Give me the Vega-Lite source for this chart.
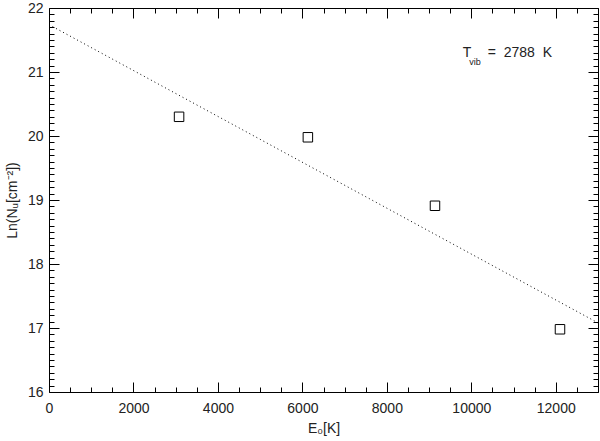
{
  "$schema": "https://vega.github.io/schema/vega-lite/v6.json",
  "width": 549,
  "height": 384,
  "autosize": {"type": "none"},
  "padding": {"left": 49, "top": 8, "right": 2, "bottom": 49},
  "background": "white",
  "config": {
    "view": {"stroke": "#000", "strokeWidth": 1},
    "axis": {
      "domain": false,
      "grid": false,
      "tickColor": "#000",
      "tickWidth": 1,
      "labelFont": "Liberation Sans",
      "labelFontSize": 14,
      "labelColor": "#222",
      "titleFont": "Liberation Sans",
      "titleFontSize": 14,
      "titleFontWeight": "normal",
      "titleColor": "#222"
    }
  },
  "layer": [
    {
      "data": {"values": [{"E": 0, "lnN": 21.74}, {"E": 13000, "lnN": 17.08}]},
      "mark": {"type": "line", "color": "#000", "strokeWidth": 1, "strokeDash": [1, 3]},
      "encoding": {
        "x": {
          "field": "E", "type": "quantitative",
          "scale": {"domain": [0, 13000], "nice": false, "zero": false},
          "axis": {
            "orient": "bottom",
            "title": "E₀[K]",
            "titlePadding": 1,
            "format": "d",
            "values": [0,500,1000,1500,2000,2500,3000,3500,4000,4500,5000,5500,6000,6500,7000,7500,8000,8500,9000,9500,10000,10500,11000,11500,12000,12500,13000],
            "labelExpr": "datum.value % 2000 === 0 ? datum.label : ''",
            "tickSize": {"condition": {"test": "datum.value % 2000 === 0", "value": -10}, "value": -5},
            "labelPadding": 19,
            "labelOverlap": false,
            "labelFlush": false
          }
        },
        "y": {
          "field": "lnN", "type": "quantitative",
          "scale": {"domain": [16, 22], "nice": false, "zero": false},
          "axis": {
            "orient": "left",
            "title": "Ln(Nᵤ[cm⁻²])",
            "titlePadding": 8,
            "values": [16,16.1,16.2,16.3,16.4,16.5,16.6,16.7,16.8,16.9,17,17.1,17.2,17.3,17.4,17.5,17.6,17.7,17.8,17.9,18,18.1,18.2,18.3,18.4,18.5,18.6,18.7,18.8,18.9,19,19.1,19.2,19.3,19.4,19.5,19.6,19.7,19.8,19.9,20,20.1,20.2,20.3,20.4,20.5,20.6,20.7,20.8,20.9,21,21.1,21.2,21.3,21.4,21.5,21.6,21.7,21.8,21.9,22],
            "labelExpr": "abs(datum.value - round(datum.value)) < 0.01 ? format(datum.value, 'd') : ''",
            "tickSize": {"condition": {"test": "abs(datum.value - round(datum.value)) < 0.01", "value": -10}, "value": -5},
            "labelPadding": 16,
            "labelOverlap": false,
            "labelFlush": false
          }
        }
      }
    },
    {
      "data": {"values": [
        {"E": 3080, "lnN": 20.3},
        {"E": 6130, "lnN": 19.98},
        {"E": 9140, "lnN": 18.91},
        {"E": 12100, "lnN": 16.98}
      ]},
      "mark": {"type": "point", "shape": "square", "filled": false, "color": "#000", "strokeWidth": 1, "size": 90, "opacity": 1},
      "encoding": {
        "x": {
          "field": "E", "type": "quantitative",
          "axis": {
            "orient": "top", "title": null, "labels": false,
            "values": [0,500,1000,1500,2000,2500,3000,3500,4000,4500,5000,5500,6000,6500,7000,7500,8000,8500,9000,9500,10000,10500,11000,11500,12000,12500,13000],
            "tickSize": {"condition": {"test": "datum.value % 2000 === 0", "value": -10}, "value": -5}
          }
        },
        "y": {
          "field": "lnN", "type": "quantitative",
          "axis": {
            "orient": "right", "title": null, "labels": false,
            "values": [16,16.1,16.2,16.3,16.4,16.5,16.6,16.7,16.8,16.9,17,17.1,17.2,17.3,17.4,17.5,17.6,17.7,17.8,17.9,18,18.1,18.2,18.3,18.4,18.5,18.6,18.7,18.8,18.9,19,19.1,19.2,19.3,19.4,19.5,19.6,19.7,19.8,19.9,20,20.1,20.2,20.3,20.4,20.5,20.6,20.7,20.8,20.9,21,21.1,21.2,21.3,21.4,21.5,21.6,21.7,21.8,21.9,22],
            "tickSize": {"condition": {"test": "abs(datum.value - round(datum.value)) < 0.01", "value": -10}, "value": -5}
          }
        }
      }
    },
    {
      "data": {"values": [
        {"E": 9800, "lnN": 21.3, "t": "T", "fs": 14},
        {"E": 9950, "lnN": 21.16, "t": "vib", "fs": 9},
        {"E": 10390, "lnN": 21.3, "t": "= \u00a02788\u00a0 K", "fs": 14}
      ]},
      "mark": {"type": "text", "align": "left", "baseline": "middle", "font": "Liberation Sans", "color": "#222"},
      "encoding": {
        "x": {"field": "E", "type": "quantitative", "axis": null},
        "y": {"field": "lnN", "type": "quantitative", "axis": null},
        "text": {"field": "t"},
        "size": {"field": "fs", "type": "quantitative", "scale": null, "legend": null}
      }
    }
  ],
  "resolve": {"axis": {"x": "independent", "y": "independent"}}
}
